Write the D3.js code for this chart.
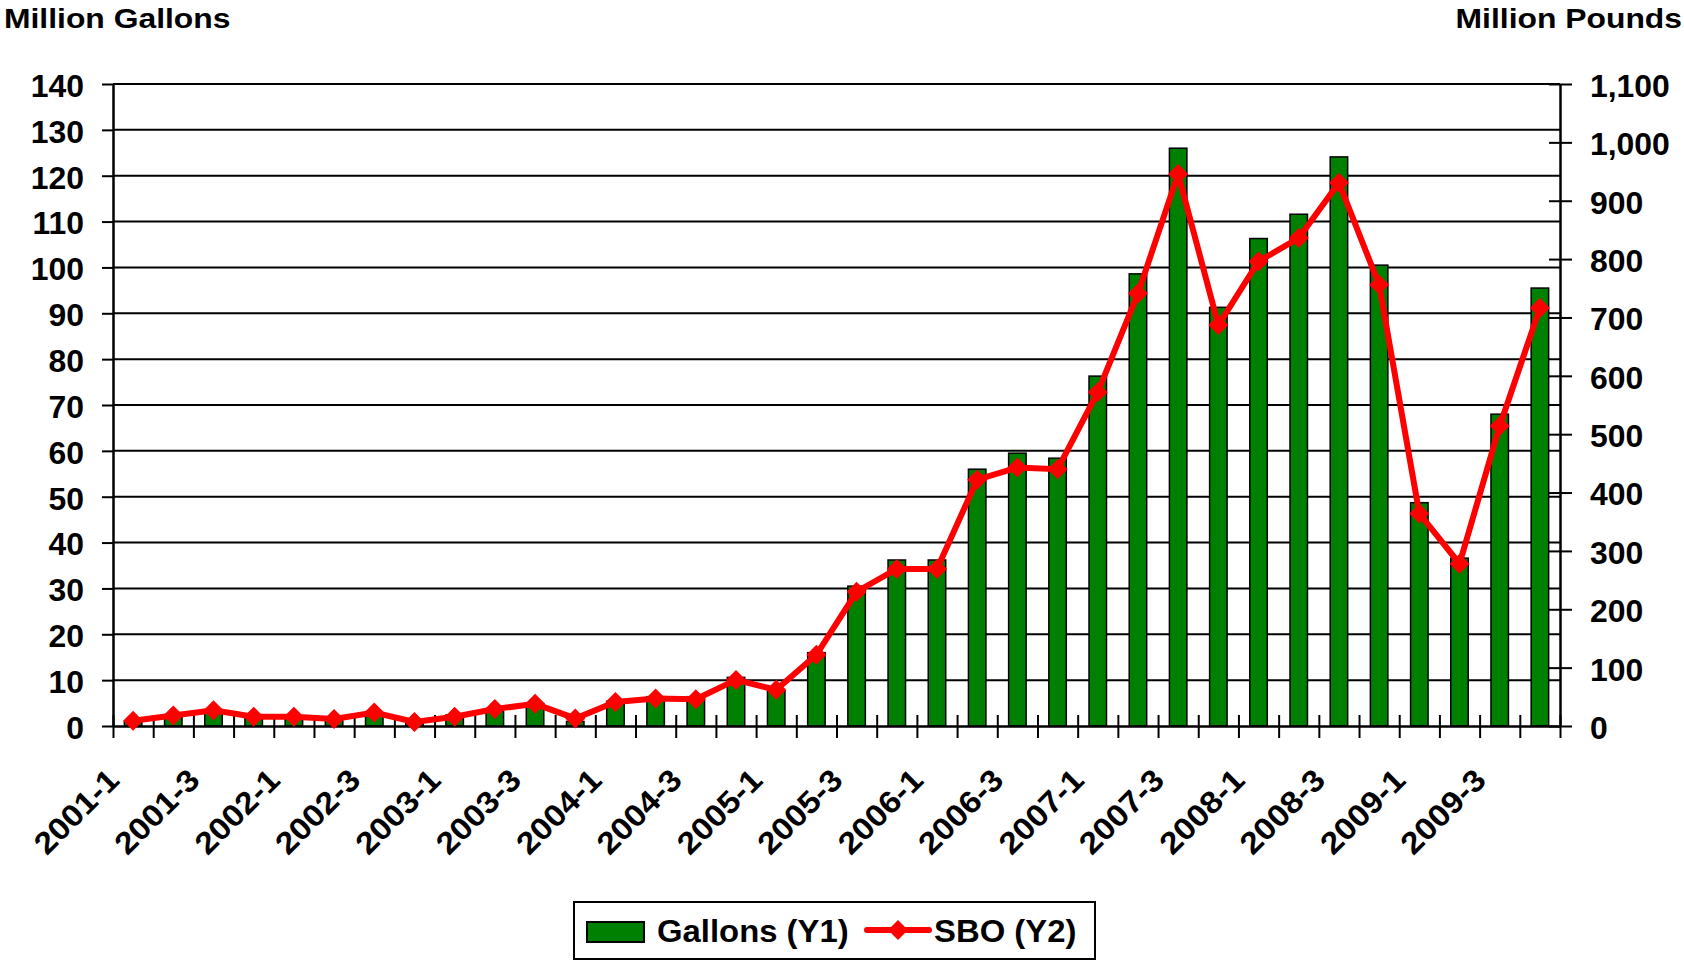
<!DOCTYPE html>
<html>
<head>
<meta charset="utf-8">
<script src="https://cdn.jsdelivr.net/npm/d3@7"></script>
<style>
body { margin: 0; background: #fff; }
text { font-family: "Liberation Sans", Arial, sans-serif; font-weight: bold; fill: #000; }
</style>
</head>
<body>
<svg width="1684" height="960"></svg>
<script>
var quarters = ["2001-1","2001-2","2001-3","2001-4","2002-1","2002-2","2002-3","2002-4",
    "2003-1","2003-2","2003-3","2003-4","2004-1","2004-2","2004-3","2004-4",
    "2005-1","2005-2","2005-3","2005-4","2006-1","2006-2","2006-3","2006-4",
    "2007-1","2007-2","2007-3","2007-4","2008-1","2008-2","2008-3","2008-4",
    "2009-1","2009-2","2009-3","2009-4"];

// million gallons (Y1)
var gallons = [1.0, 2.0, 2.8, 1.7, 1.7, 1.3, 2.4, 0.6, 2.4, 3.2, 4.9, 1.0,
    5.4, 6.4, 6.4, 10.6, 7.7, 16.0, 30.5, 36.2, 36.2, 56.0, 59.5, 58.4,
    76.3, 98.6, 126.0, 91.3, 106.3, 111.6, 124.1, 100.5, 48.7, 36.6, 68.0, 95.5];

// million pounds SBO (Y2)
var sbo = [9, 18, 27, 16, 16, 12, 23, 7, 16, 29, 38, 13,
    41, 47, 46, 79, 62, 122, 230, 269, 269, 422, 443, 440,
    572, 741, 946, 687, 796, 836, 931, 756, 364, 278, 514, 716];

var y1Ticks = [0, 10, 20, 30, 40, 50, 60, 70, 80, 90, 100, 110, 120, 130, 140];
var y2Ticks = [0, 100, 200, 300, 400, 500, 600, 700, 800, 900, 1000, 1100];
var labelQuarters = ["2001-1","2001-3","2002-1","2002-3","2003-1","2003-3","2004-1","2004-3",
    "2005-1","2005-3","2006-1","2006-3","2007-1","2007-3","2008-1","2008-3","2009-1","2009-3"];

var svg = d3.select("svg"),
    plotLeft = 113, plotRight = 1560, plotTop = 84, plotBottom = 726;

var x = d3.scaleBand()
    .domain(quarters)
    .range([plotLeft, plotRight])
    .paddingInner(0.565)
    .paddingOuter(0.2825);

var xEdge = d3.scaleLinear()
    .domain([0, quarters.length])
    .range([plotLeft, plotRight]);

var y1 = d3.scaleLinear().domain([0, 140]).range([plotBottom, plotTop]);
var y2 = d3.scaleLinear().domain([0, 1100]).range([plotBottom, plotTop]);

svg.append("rect").attr("width", 1684).attr("height", 960).attr("fill", "#fff");

// gridlines
svg.append("g").selectAll("line")
    .data(y1Ticks.slice(1))
    .enter().append("line")
    .attr("x1", plotLeft).attr("x2", plotRight)
    .attr("y1", d => y1(d)).attr("y2", d => y1(d))
    .attr("stroke", "#000")
    .attr("stroke-width", 2);

// bars
svg.append("g").selectAll("rect")
    .data(gallons)
    .enter().append("rect")
    .attr("x", (d, i) => x(quarters[i]))
    .attr("width", x.bandwidth())
    .attr("y", d => y1(d))
    .attr("height", d => plotBottom - y1(d))
    .attr("fill", "#008000")
    .attr("stroke", "#000")
    .attr("stroke-width", 1.5);

// left axis
var gLeft = svg.append("g")
    .attr("transform", "translate(" + plotLeft + ",0)")
    .call(d3.axisLeft(y1).tickValues(y1Ticks).tickSize(11).tickSizeOuter(0));
gLeft.selectAll("line").attr("stroke-width", 2);
gLeft.select(".domain").attr("stroke-width", 2.5);
gLeft.selectAll("text")
    .attr("x", 0).attr("dy", "0.4em")
    .attr("font-size", 31)
    .attr("transform", "translate(-29,0) scale(1.03,1)");

// right axis
var gRight = svg.append("g")
    .attr("transform", "translate(" + plotRight + ",0)")
    .call(d3.axisRight(y2).tickValues(y2Ticks).tickSize(12).tickSizeOuter(0).tickFormat(d3.format(",")));
gRight.selectAll("line").attr("x1", -11).attr("stroke-width", 2);
gRight.select(".domain").attr("stroke-width", 2.5);
gRight.selectAll("text")
    .attr("x", 0).attr("dy", "0.4em")
    .attr("font-size", 31)
    .attr("transform", "translate(30,0) scale(1.03,1)");

// bottom axis: category separators
var gEdge = svg.append("g")
    .attr("transform", "translate(0," + plotBottom + ")")
    .call(d3.axisBottom(xEdge).tickValues(d3.range(quarters.length + 1)).tickSize(12).tickSizeOuter(0).tickFormat(""));
gEdge.selectAll("line").attr("y1", -11).attr("stroke-width", 2);
gEdge.select(".domain").attr("stroke-width", 2.5);

// bottom axis: labels
var gLab = svg.append("g")
    .attr("transform", "translate(0," + plotBottom + ")")
    .call(d3.axisBottom(x).tickValues(labelQuarters).tickSize(0));
gLab.select(".domain").remove();
gLab.selectAll("text")
    .attr("x", 0).attr("y", 0).attr("dy", 0)
    .attr("font-size", 31)
    .attr("text-anchor", "end")
    .attr("transform", "translate(-12,56) rotate(-45) scale(1.09,1)");

// SBO line
var line = d3.line()
    .x((d, i) => x(quarters[i]) + x.bandwidth() / 2)
    .y(d => y2(d));

svg.append("path")
    .datum(sbo)
    .attr("d", line)
    .attr("fill", "none")
    .attr("stroke", "#ff0000")
    .attr("stroke-width", 6);

var diamond = "M0,-10L10,0L0,10L-10,0Z";
svg.append("g").selectAll("path")
    .data(sbo)
    .enter().append("path")
    .attr("d", diamond)
    .attr("transform", (d, i) => "translate(" + (x(quarters[i]) + x.bandwidth() / 2) + "," + y2(d) + ")")
    .attr("fill", "#ff0000");

// axis titles
svg.append("text")
    .attr("font-size", 27)
    .attr("transform", "translate(4,28) scale(1.18,1)")
    .text("Million Gallons");
svg.append("text")
    .attr("font-size", 27)
    .attr("text-anchor", "end")
    .attr("transform", "translate(1682,28) scale(1.18,1)")
    .text("Million Pounds");

// legend
var legend = svg.append("g");
legend.append("rect")
    .attr("x", 574).attr("y", 902).attr("width", 521).attr("height", 57)
    .attr("fill", "#fff").attr("stroke", "#000").attr("stroke-width", 2);
legend.append("rect")
    .attr("x", 587).attr("y", 922).attr("width", 57).attr("height", 20)
    .attr("fill", "#008000").attr("stroke", "#000").attr("stroke-width", 2);
legend.append("text")
    .attr("font-size", 31)
    .attr("transform", "translate(657,942) scale(1.06,1)")
    .text("Gallons (Y1)");
legend.append("line")
    .attr("x1", 867).attr("x2", 929).attr("y1", 930).attr("y2", 930)
    .attr("stroke", "#ff0000").attr("stroke-width", 6).attr("stroke-linecap", "round");
legend.append("path")
    .attr("d", diamond)
    .attr("transform", "translate(898,930)")
    .attr("fill", "#ff0000");
legend.append("text")
    .attr("font-size", 31)
    .attr("transform", "translate(934,942) scale(1.06,1)")
    .text("SBO (Y2)");
</script>
</body>
</html>
